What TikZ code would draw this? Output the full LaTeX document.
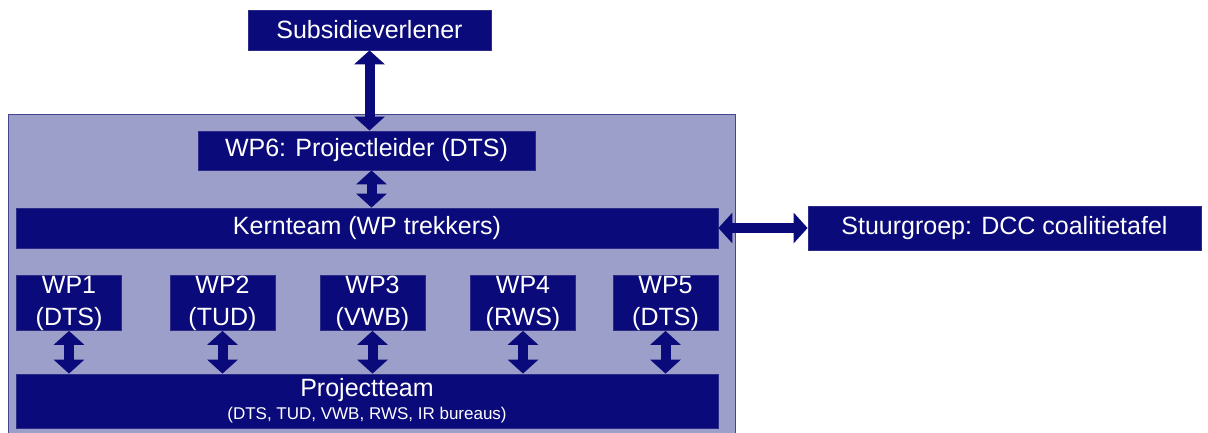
\documentclass[tikz,border=0pt]{standalone}
\usepackage{fontspec}
\setmainfont{Liberation Sans}
\usepackage{tikz}
\usetikzlibrary{arrows.meta}
\definecolor{navy}{HTML}{0A0A7A}
\definecolor{edge}{HTML}{2C2C86}
\definecolor{lavender}{HTML}{9D9FCB}
\definecolor{rim}{HTML}{45458C}
\newcommand{\minorfont}{\fontsize{17}{20}\selectfont}
\tikzset{
  panel/.style={draw=rim, fill=lavender, line width=1pt},
  box/.style={draw=edge, fill=navy, line width=0.8pt, text=white, inner sep=0pt,
    font=\fontsize{25}{32}\selectfont, align=center},
  twoway/.style={draw=navy, line width=10pt,
    {Triangle[width=30pt,length=14pt]}-{Triangle[width=30pt,length=14pt]}}
}

\begin{document}
\begin{tikzpicture}[x=1pt,y=-1pt]
  \useasboundingbox (0,0) rectangle (1208,432);

  % project frame
  \draw[panel] (8,114) rectangle (735,436);

  \node[box, minimum width=243pt, minimum height=40pt] (sub) at (369.5,30) {Subsidieverlener};
  \node[box, minimum width=337pt, minimum height=39pt] (wp6) at (366.5,150.5) {WP6: Projectleider (DTS)};
  \node[box, minimum width=702pt, minimum height=40pt] (kern) at (367,228) {Kernteam (WP trekkers)};
  \node[box, minimum width=393pt, minimum height=44pt] (stuur) at (1004.5,228) {Stuurgroep: DCC coalitietafel};

  \node[box, minimum width=105pt, minimum height=55pt] (wp1) at (69,303) {WP1\\(DTS)};
  \node[box, minimum width=105pt, minimum height=55pt] (wp2) at (222.5,303) {WP2\\(TUD)};
  \node[box, minimum width=105pt, minimum height=55pt] (wp3) at (372.5,303) {WP3\\(VWB)};
  \node[box, minimum width=105pt, minimum height=55pt] (wp4) at (523,303) {WP4\\(RWS)};
  \node[box, minimum width=105pt, minimum height=55pt] (wp5) at (665.5,303) {WP5\\(DTS)};

  \node[box, minimum width=702pt, minimum height=54pt] (proj) at (367,401)
    {Projectteam\\[-9pt]{\minorfont (DTS, TUD, VWB, RWS, IR bureaus)}};

  % links
  \draw[twoway] (sub.south) -- (sub.south |- wp6.north);
  \draw[twoway] ([xshift=5pt]wp6.south) -- ([xshift=5pt]wp6.south |- kern.north);
  \draw[twoway] (kern.east) -- (stuur.west);
  \draw[twoway] (wp1.south) -- (wp1.south |- proj.north);
  \draw[twoway] (wp2.south) -- (wp2.south |- proj.north);
  \draw[twoway] (wp3.south) -- (wp3.south |- proj.north);
  \draw[twoway] (wp4.south) -- (wp4.south |- proj.north);
  \draw[twoway] (wp5.south) -- (wp5.south |- proj.north);
\end{tikzpicture}
\end{document}
